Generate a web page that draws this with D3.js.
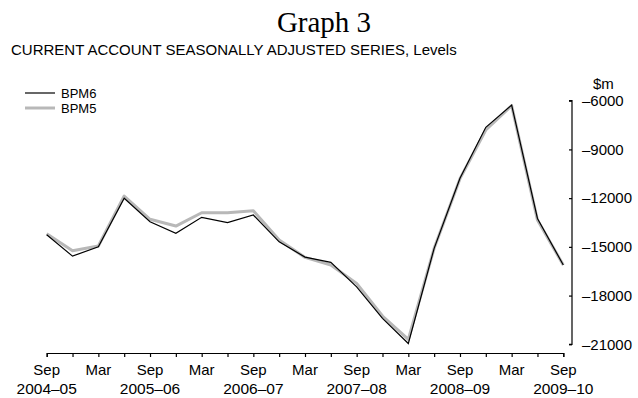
<!DOCTYPE html>
<html>
<head>
<meta charset="utf-8">
<script src="https://cdn.jsdelivr.net/npm/d3@7"></script>
<style>
  body { margin: 0; background: #fff; }
  svg { display: block; font-family: "Liberation Sans", Arial, sans-serif; }
</style>
</head>
<body>
<div id="chart"></div>
<script>
// quarters, Sep 2004 .. Sep 2009
const quarters = ["Sep-04","Dec-04","Mar-05","Jun-05","Sep-05","Dec-05","Mar-06","Jun-06","Sep-06","Dec-06",
  "Mar-07","Jun-07","Sep-07","Dec-07","Mar-08","Jun-08","Sep-08","Dec-08","Mar-09","Jun-09","Sep-09"]
const monthLabels = ["Sep","","Mar","","Sep","","Mar","","Sep","","Mar","","Sep","","Mar","","Sep","","Mar","","Sep"]
const yearLabels = ["2004–05","","","","2005–06","","","","2006–07","","","","2007–08","","","","2008–09","","","","2009–10"]

// $m
const bpm6 = [-14250,-15570,-14990,-12010,-13450,-14170,-13180,-13510,-13040,-14690,
  -15630,-15950,-17460,-19400,-20950,-15090,-10780,-7640,-6270,-13250,-16120]
const bpm5 = [-14200,-15240,-14950,-11870,-13300,-13720,-12900,-12900,-12780,-14580,
  -15650,-16120,-17250,-19260,-20700,-15090,-10800,-7800,-6300,-13350,-16120]

const yTicks = [-6000,-9000,-12000,-15000,-18000,-21000]

const W = 638, H = 398

const svg = d3.select("#chart").append("svg")
    .attr("width", W)
    .attr("height", H)

// titles
svg.append("text")
    .attr("x", 324).attr("y", 32)
    .attr("text-anchor", "middle")
    .style("font-family", "'Liberation Serif', 'Times New Roman', serif")
    .style("font-size", "29px")
    .text("Graph 3")

svg.append("text")
    .attr("x", 11).attr("y", 55)
    .style("font-size", "15px")
    .text("CURRENT ACCOUNT SEASONALLY ADJUSTED SERIES, Levels")

var x = d3.scalePoint()
    .domain(quarters)
    .range([46.7, 563.3])

var y = d3.scaleLinear()
    .domain([-21000, -6000])
    .range([344.3, 100.7])

// y axis on the right, ticks pointing in
const axisX = 572
var yAxis = svg.append("g")
    .attr("transform", "translate(" + axisX + ",0)")
    .call(d3.axisLeft(y).tickValues(yTicks).tickSize(3).tickFormat(""))
yAxis.select(".domain").attr("d", "M-3," + y(-6000) + "H0V" + y(-21000) + "H-3")
yAxis.selectAll("line, path").attr("stroke", "#000").attr("stroke-width", 1.2)

svg.selectAll(".ylab")
    .data(yTicks)
    .enter()
    .append("text")
        .attr("class", "ylab")
        .attr("x", 582)
        .attr("y", d => y(d))
        .attr("dy", "0.35em")
        .style("font-size", "15px")
        .text(d => "–" + Math.abs(d))

svg.append("text")
    .attr("x", 593).attr("y", 89)
    .style("font-size", "15px")
    .text("$m")

// x axis
const axisY = 353
var xAxis = svg.append("g")
    .attr("transform", "translate(0," + axisY + ")")
    .call(d3.axisBottom(x).tickSizeOuter(0).tickSize(4).tickFormat(""))
xAxis.selectAll("line, path").attr("stroke", "#000").attr("stroke-width", 1.2)

svg.selectAll(".mlab")
    .data(quarters)
    .enter()
    .append("text")
        .attr("x", d => x(d))
        .attr("y", 375)
        .attr("text-anchor", "middle")
        .style("font-size", "15px")
        .text((d, i) => monthLabels[i])

svg.selectAll(".ylab2")
    .data(quarters)
    .enter()
    .append("text")
        .attr("x", d => x(d))
        .attr("y", 394)
        .attr("text-anchor", "middle")
        .style("font-size", "15.5px")
        .text((d, i) => yearLabels[i])

// lines
var line = d3.line()
    .x((d, i) => x(quarters[i]))
    .y(d => y(d))

svg.append("path")
    .attr("fill", "none")
    .attr("stroke", "#b8b8b8")
    .attr("stroke-width", 3)
    .attr("stroke-linejoin", "round")
    .attr("d", line(bpm5))

svg.append("path")
    .attr("fill", "none")
    .attr("stroke", "#000")
    .attr("stroke-width", 1.2)
    .attr("d", line(bpm6))

// legend
const legend = [{name: "BPM6", color: "#000", w: 1.2}, {name: "BPM5", color: "#b8b8b8", w: 3}]
var lg = svg.selectAll(".legend")
    .data(legend)
    .enter()
    .append("g")
        .attr("transform", (d, i) => "translate(0," + (93 + i * 15) + ")")
lg.append("line")
    .attr("x1", 25).attr("x2", 55)
    .attr("stroke", d => d.color)
    .attr("stroke-width", d => d.w)
lg.append("text")
    .attr("x", 61)
    .attr("dy", "0.35em")
    .style("font-size", "13px")
    .text(d => d.name)
</script>
</body>
</html>
